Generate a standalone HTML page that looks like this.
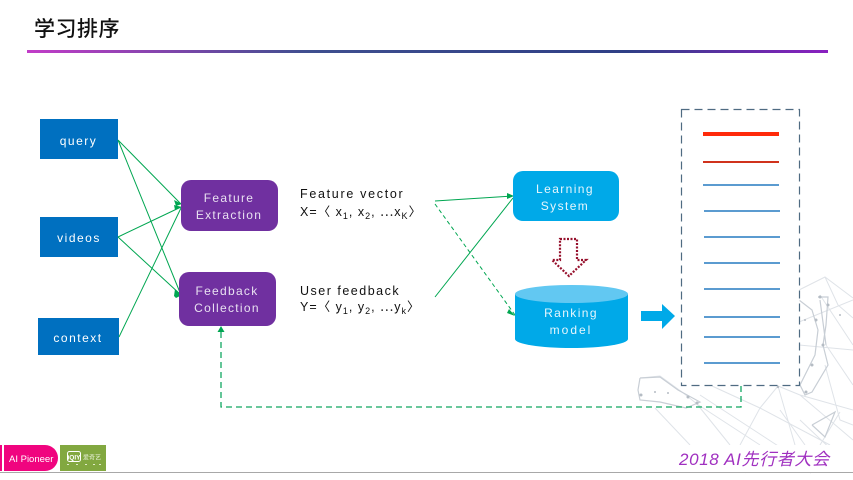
<!DOCTYPE html>
<html><head><meta charset="utf-8">
<style>
html,body{margin:0;padding:0;background:#fff}
body{width:853px;height:480px;overflow:hidden;position:relative}
svg{position:absolute;left:0;top:0}
text{font-family:"Liberation Sans","Noto Sans CJK JP",sans-serif}
</style></head><body>
<svg width="853" height="480" viewBox="0 0 853 480" xmlns="http://www.w3.org/2000/svg">
<defs>
<linearGradient id="g" x1="0" x2="1" y1="0" y2="0">
<stop offset="0" stop-color="#c23cc8"/><stop offset=".35" stop-color="#3f4f8f"/><stop offset=".75" stop-color="#2f3f86"/><stop offset="1" stop-color="#8a20c0"/>
</linearGradient>
</defs>

<!-- background network -->
<g fill="none" stroke="#dfe3e8" stroke-width="1">
<path d="M799 290L825 277L853 298M825 277L838 305L853 318M799 322L853 300M799 345L853 350M800 395L853 410M800 395L778 386L760 408L740 445M778 386L795 445M800 395L853 440M760 408L712 386M640 378L660 376L682 392L697 404L760 445M655 408L690 445M697 404L730 445M825 365L840 420L853 425M840 412L820 445M800 420L853 470M760 408L830 445M826 345L853 385M820 295L853 345M780 410L805 445M700 395L815 470M760 445L745 473M810 473L853 450"/>
</g>
<g fill="none" stroke="#c8ced5" stroke-width="1.200">
<path d="M818 297L828 297L826 325L823 345L828 365L812 392L805 395L800 385L815 355L818 330L812 310L799 300M820 300L826 345M640 378L660 377L678 390L700 402L686 408L660 402L640 400L638 390L640 378M812 425L835 412L825 437L812 425"/>
</g>
<g fill="#b5bcc4">
<circle cx="820" cy="297" r="1.500"/><circle cx="828" cy="305" r="1.500"/><circle cx="816" cy="320" r="1.500"/><circle cx="823" cy="345" r="1.500"/><circle cx="812" cy="365" r="1.500"/><circle cx="806" cy="392" r="1.500"/><circle cx="641" cy="395" r="1.500"/><circle cx="655" cy="392" r="1"/><circle cx="668" cy="393" r="1"/><circle cx="688" cy="397" r="1.500"/><circle cx="697" cy="403" r="1.500"/><circle cx="778" cy="387" r="1.200"/><circle cx="805" cy="320" r="1"/><circle cx="840" cy="315" r="1"/>
</g>

<!-- title -->
<text x="34" y="36" font-size="21" font-weight="500" fill="#111" letter-spacing="0.500">学习排序</text>
<rect x="27" y="50" width="801" height="3" fill="url(#g)"/>

<!-- left boxes -->
<rect x="40" y="119" width="78" height="40" fill="#0070c0"/>
<rect x="40" y="217" width="78" height="40" fill="#0070c0"/>
<rect x="38" y="318" width="81" height="37" fill="#0070c0"/>
<g fill="#fff" font-size="12" text-anchor="middle" letter-spacing="1.500">
<text x="78.500" y="145">query</text>
<text x="79" y="242">videos</text>
<text x="78" y="342">context</text>
</g>

<!-- green connectors -->
<g stroke="#00a651" stroke-width="1" fill="none">
<path d="M118 140L181 204M118 140L181 295M118 237L181 207M118 237L181 295M119 337L181 208"/>
<path d="M435 201L513 196M435 297L513 198"/>
<path d="M435 204L515 315" stroke-dasharray="4 3"/>
</g>
<path d="M741 386V407H221V330" fill="none" style="stroke:#10a862;stroke-width:1.300;stroke-dasharray:6 4"/>
<g fill="#00a651">
<path d="M182 204L174 200L176 206Z"/>
<path d="M182 207L174 205L175 210Z"/>
<path d="M182 295L175 289L174 296L176 298Z"/>
<path d="M514 196L507 193L507 199Z"/>
<path d="M515 316L509 309L507 313Z"/>
<path d="M221 326L217.500 332H224.500Z"/>
</g>

<!-- purple boxes -->
<rect x="181" y="180" width="97" height="51" rx="10" fill="#7030a0"/>
<rect x="179" y="272" width="97" height="54" rx="10" fill="#7030a0"/>
<g fill="#e9e1f1" font-size="12" text-anchor="middle" letter-spacing="1.300">
<text x="229" y="202">Feature</text>
<text x="229" y="219">Extraction</text>
<text x="227" y="295">Feedback</text>
<text x="227" y="312">Collection</text>
</g>

<!-- middle text -->
<g fill="#111" font-size="12.500">
<text x="300" y="198" letter-spacing="1.700">Feature vector</text>
<text x="300" y="295" letter-spacing="1.500">User feedback</text>
<g letter-spacing="1">
<text x="300" y="216">X=〈 x<tspan font-size="9" dy="3">1</tspan><tspan dy="-3">, x</tspan><tspan font-size="9" dy="3">2</tspan><tspan dy="-3">, ⋯x</tspan><tspan font-size="9" dy="3">K</tspan><tspan dy="-3">〉</tspan></text>
<text x="300" y="311">Y=〈 y<tspan font-size="9" dy="3">1</tspan><tspan dy="-3">, y</tspan><tspan font-size="9" dy="3">2</tspan><tspan dy="-3">, ⋯y</tspan><tspan font-size="9" dy="3">k</tspan><tspan dy="-3">〉</tspan></text>
</g>
</g>

<!-- learning box -->
<rect x="513" y="171" width="106" height="50" rx="10" fill="#00a9e8"/>
<!-- dotted down arrow -->
<path d="M560 239H577V260H586L569 276L552 260H560Z" fill="#fff" stroke="#96102c" stroke-width="2.200" stroke-dasharray="2 1.500"/>
<!-- cylinder -->
<path d="M515 294V339A56.500 9 0 0 0 628 339V294Z" fill="#00a9e8"/>
<ellipse cx="571.500" cy="294" rx="56.500" ry="9" fill="#62c8f2"/>
<g fill="#e6f6fd" font-size="12" text-anchor="middle" letter-spacing="1.400">
<text x="565" y="193">Learning</text>
<text x="565" y="210">System</text>
<text x="571" y="317">Ranking</text>
<text x="571" y="334" letter-spacing="2">model</text>
</g>
<!-- blue arrow -->
<path d="M641 311H662V304L675 316L662 329V321H641Z" fill="#00a9e8"/>

<!-- ranked list -->
<rect x="681.500" y="109.500" width="118" height="276" fill="#fff" stroke="#4f6b82" stroke-width="1.200" stroke-dasharray="8 5"/>
<rect x="703" y="132" width="76" height="4" fill="#ff2a0a"/>
<rect x="703" y="161" width="76" height="2" fill="#d0321c"/>
<g fill="#5b9bd0">
<rect x="703" y="184" width="76" height="2"/>
<rect x="704" y="210" width="76" height="2"/>
<rect x="704" y="236" width="76" height="2"/>
<rect x="704" y="262" width="76" height="2"/>
<rect x="704" y="288" width="76" height="2"/>
<rect x="704" y="316" width="76" height="2"/>
<rect x="704" y="336" width="76" height="2"/>
<rect x="704" y="362" width="76" height="2"/>
</g>

<!-- footer -->
<rect x="640" y="445" width="213" height="27" fill="#fff"/>
<text x="679" y="465" font-size="17" font-style="italic" fill="#a030c0" textLength="150">2018 AI先行者大会</text>
<rect x="0" y="472" width="853" height="1" fill="#a8a8a8"/>
<rect x="0" y="445" width="2" height="26" fill="#f0047f"/>
<path d="M4 445H45A13 13 0 0 1 45 471H4Z" fill="#f0047f"/>
<text x="9" y="462" font-size="9.500" fill="#fff">AI Pioneer</text>
<rect x="60" y="445" width="46" height="26" fill="#82a840"/>
<rect x="67.500" y="451.500" width="13" height="10" rx="2" fill="none" stroke="#fff" stroke-width="1"/>
<text x="74" y="459.500" font-size="6.500" font-weight="700" fill="#fff" text-anchor="middle">iQIY</text>
<text x="83" y="459.500" font-size="6" fill="#e8f0d8">爱奇艺</text>
<g fill="#dfe9c8"><rect x="67" y="464" width="2" height="1"/><rect x="76" y="464" width="2" height="1"/><rect x="85" y="464" width="2" height="1"/><rect x="93" y="464" width="2" height="1"/><rect x="99" y="464" width="2" height="1"/></g>
</svg>
</body></html>
